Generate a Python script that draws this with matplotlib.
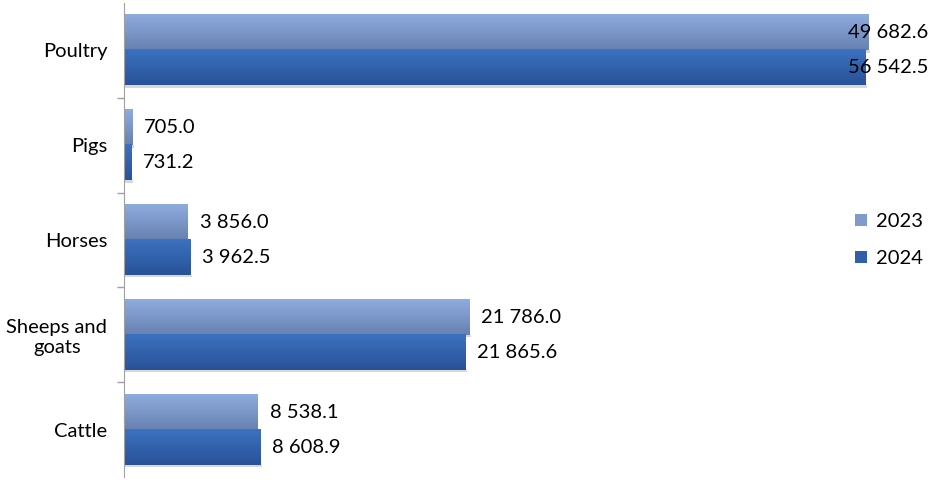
import numpy as np
from matplotlib import pyplot as plt
from matplotlib.patches import Patch

categories = ['Cattle', 'Sheeps and\ngoats', 'Horses', 'Pigs', 'Poultry']
labels_2023 = ['8 538.1', '21 786.0', '3 856.0', '705.0', '49 682.6']
labels_2024 = ['8 608.9', '21 865.6', '3 962.5', '731.2', '56 542.5']
# bar lengths as drawn in the picture (they do not follow the labels exactly)
bars_2023 = [8480, 21840, 4050, 510, 47100]
bars_2024 = [8610, 21590, 4180, 450, 46950]

plt.rcParams['font.family'] = ['Lato', 'DejaVu Sans']
fs = 14.5

fig = plt.figure(figsize=(9.35, 4.87), dpi=100)
ax = fig.add_axes([124 / 935, 10 / 487, 806 / 935, 474 / 487])
xmax = 806 * 63.3
ax.set_xlim(0, xmax)
ax.set_ylim(-0.5, 4.5)

h = 0.37
y = np.arange(len(categories))

def grad_bar(x0, x1, y0, y1, top, bottom):
    g = np.linspace(0, 1, 64).reshape(-1, 1)
    c0 = np.array(top) / 255
    c1 = np.array(bottom) / 255
    img = c0 * (1 - g[..., None]) + c1 * g[..., None]
    img = np.repeat(img, 2, axis=1)
    ax.imshow(img, extent=[x0, x1, y0, y1], origin='upper', aspect='auto', zorder=2)
    # shadow
    ax.fill_between([x0, x1 + xmax * 0.002], y0 - 0.025, y0, color='#d8d8d8', zorder=1, lw=0)

c23_top, c23_bot = (143, 172, 222), (104, 128, 178)
c24_top, c24_bot = (60, 114, 192), (40, 82, 152)

for i in range(len(categories)):
    grad_bar(0, bars_2023[i], y[i], y[i] + h, c23_top, c23_bot)
    grad_bar(0, bars_2024[i], y[i] - h, y[i], c24_top, c24_bot)
    for val, lab, yy in [(bars_2023[i], labels_2023[i], y[i] + h / 2),
                         (bars_2024[i], labels_2024[i], y[i] - h / 2)]:
        if val > xmax * 0.85:
            ax.text(xmax - 2 * 63.3, yy, lab, ha='right', va='center', fontsize=fs, zorder=3)
        else:
            ax.text(val + 12 * 63.3, yy, lab, ha='left', va='center', fontsize=fs, zorder=3)

ax.set_yticks(y)
ax.set_yticklabels(categories, fontsize=fs, multialignment='center')
ax.set_yticks(y[:-1] + 0.5, minor=True)
ax.tick_params(axis='y', which='major', length=0, pad=12)
ax.tick_params(axis='y', which='minor', length=5, color='#a0a0a0', width=1)
ax.set_xticks([])
for s in ['top', 'right', 'bottom']:
    ax.spines[s].set_visible(False)
ax.spines['left'].set_color('#a0a0a0')

handles = [Patch(facecolor='#7f9bcd', edgecolor='none', label='2023'),
           Patch(facecolor='#2f5fa8', edgecolor='none', label='2024')]
ax.legend(handles=handles, loc='center left', bbox_to_anchor=(0.885, 0.5),
          frameon=False, fontsize=fs, handlelength=0.55, handleheight=0.55,
          handletextpad=0.45, labelspacing=1.0)

plt.savefig('out.png', dpi=100)
